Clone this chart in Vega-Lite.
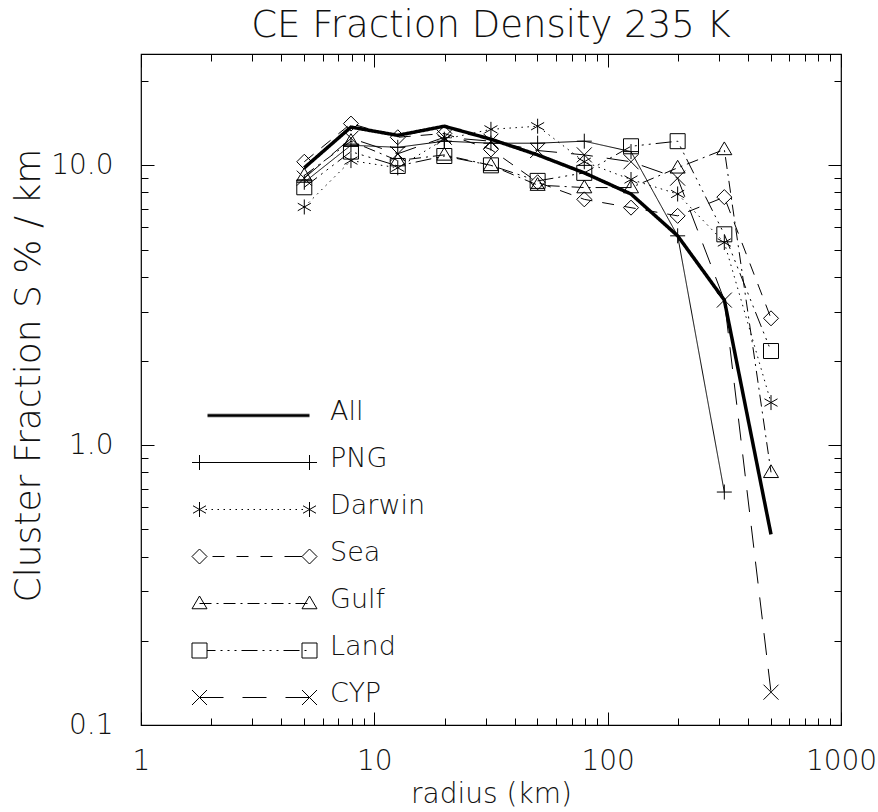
{
  "$schema": "https://vega.github.io/schema/vega-lite/v6.json",
  "width": 700,
  "height": 671,
  "autosize": "none",
  "padding": {"left": 141, "top": 54, "right": 37, "bottom": 87},
  "background": "white",
  "title": {"text": "CE Fraction Density 235 K", "anchor": "middle", "frame": "group", "font": "DejaVu Sans", "fontSize": 37, "fontWeight": 200, "color": "#111", "offset": 9},
  "data": {"values": [
    {"r": 5.01, "s": "All", "v": 9.8}, {"r": 7.94, "s": "All", "v": 13.7}, {"r": 12.6, "s": "All", "v": 12.8}, {"r": 19.95, "s": "All", "v": 13.8}, {"r": 31.6, "s": "All", "v": 12.4}, {"r": 50.1, "s": "All", "v": 10.9}, {"r": 79.4, "s": "All", "v": 9.4}, {"r": 125.9, "s": "All", "v": 7.9}, {"r": 199.5, "s": "All", "v": 5.6}, {"r": 316.2, "s": "All", "v": 3.3}, {"r": 501.2, "s": "All", "v": 0.48},
    {"r": 5.01, "s": "PNG", "v": 8.7}, {"r": 7.94, "s": "PNG", "v": 11.8}, {"r": 12.6, "s": "PNG", "v": 11.6}, {"r": 19.95, "s": "PNG", "v": 12.2}, {"r": 31.6, "s": "PNG", "v": 12.0}, {"r": 50.1, "s": "PNG", "v": 12.0}, {"r": 79.4, "s": "PNG", "v": 12.2}, {"r": 125.9, "s": "PNG", "v": 11.2}, {"r": 199.5, "s": "PNG", "v": 5.6}, {"r": 316.2, "s": "PNG", "v": 0.68},
    {"r": 5.01, "s": "Darwin", "v": 7.1}, {"r": 7.94, "s": "Darwin", "v": 10.4}, {"r": 12.6, "s": "Darwin", "v": 9.8}, {"r": 19.95, "s": "Darwin", "v": 12.4}, {"r": 31.6, "s": "Darwin", "v": 13.45}, {"r": 50.1, "s": "Darwin", "v": 13.8}, {"r": 79.4, "s": "Darwin", "v": 10.3}, {"r": 125.9, "s": "Darwin", "v": 8.9}, {"r": 199.5, "s": "Darwin", "v": 7.9}, {"r": 316.2, "s": "Darwin", "v": 5.3}, {"r": 501.2, "s": "Darwin", "v": 1.42},
    {"r": 5.01, "s": "Sea", "v": 10.3}, {"r": 7.94, "s": "Sea", "v": 14.1}, {"r": 12.6, "s": "Sea", "v": 12.6}, {"r": 19.95, "s": "Sea", "v": 13.0}, {"r": 31.6, "s": "Sea", "v": 11.4}, {"r": 50.1, "s": "Sea", "v": 8.7}, {"r": 79.4, "s": "Sea", "v": 7.56}, {"r": 125.9, "s": "Sea", "v": 7.06}, {"r": 199.5, "s": "Sea", "v": 6.6}, {"r": 316.2, "s": "Sea", "v": 7.7}, {"r": 501.2, "s": "Sea", "v": 2.84},
    {"r": 5.01, "s": "Gulf", "v": 9.2}, {"r": 7.94, "s": "Gulf", "v": 12.2}, {"r": 12.6, "s": "Gulf", "v": 10.4}, {"r": 19.95, "s": "Gulf", "v": 10.9}, {"r": 31.6, "s": "Gulf", "v": 10.0}, {"r": 50.1, "s": "Gulf", "v": 8.5}, {"r": 79.4, "s": "Gulf", "v": 8.33}, {"r": 125.9, "s": "Gulf", "v": 8.33}, {"r": 199.5, "s": "Gulf", "v": 9.8}, {"r": 316.2, "s": "Gulf", "v": 11.4}, {"r": 501.2, "s": "Gulf", "v": 0.8},
    {"r": 5.01, "s": "Land", "v": 8.35}, {"r": 7.94, "s": "Land", "v": 11.2}, {"r": 12.6, "s": "Land", "v": 9.95}, {"r": 19.95, "s": "Land", "v": 10.8}, {"r": 31.6, "s": "Land", "v": 10.0}, {"r": 50.1, "s": "Land", "v": 8.8}, {"r": 79.4, "s": "Land", "v": 9.4}, {"r": 125.9, "s": "Land", "v": 11.7}, {"r": 199.5, "s": "Land", "v": 12.2}, {"r": 316.2, "s": "Land", "v": 5.67}, {"r": 501.2, "s": "Land", "v": 2.17},
    {"r": 5.01, "s": "CYP", "v": 9.0}, {"r": 7.94, "s": "CYP", "v": 12.5}, {"r": 12.6, "s": "CYP", "v": 11.0}, {"r": 19.95, "s": "CYP", "v": 12.6}, {"r": 31.6, "s": "CYP", "v": 12.2}, {"r": 50.1, "s": "CYP", "v": 11.3}, {"r": 79.4, "s": "CYP", "v": 10.9}, {"r": 125.9, "s": "CYP", "v": 10.3}, {"r": 199.5, "s": "CYP", "v": 9.0}, {"r": 316.2, "s": "CYP", "v": 3.3}, {"r": 501.2, "s": "CYP", "v": 0.131}
  ]},
  "resolve": {"axis": {"x": "independent", "y": "independent"}, "scale": {"shape": "independent"}, "legend": {"shape": "independent"}},
  "layer": [
    {
      "mark": {"type": "line", "color": "#000", "strokeCap": "butt"},
      "encoding": {
        "x": {"field": "r", "type": "quantitative", "scale": {"type": "log", "domain": [1, 1000], "nice": false},
              "axis": {"orient": "bottom", "values": [1, 10, 100, 1000], "format": "d", "ticks": false, "tickSize": 0, "labelPadding": 22, "title": "radius (km)", "titlePadding": 5}},
        "y": {"field": "v", "type": "quantitative", "scale": {"type": "log", "domain": [0.1, 25], "nice": false},
              "axis": {"orient": "left", "values": [0.1, 1, 10], "format": ".1f", "ticks": false, "tickSize": 0, "labelPadding": 28, "title": "Cluster Fraction S % / km", "titleFontSize": 36, "titlePadding": 3, "titleY": 321}},
        "strokeDash": {"field": "s", "type": "nominal",
          "scale": {"domain": ["All", "PNG", "Darwin", "Sea", "Gulf", "Land", "CYP"],
                    "range": [[1, 0], [1, 0], [1.5, 4.5], [12, 10], [12, 5, 2, 5], [16, 5, 2, 5, 2, 5, 2, 5], [22, 14]]},
          "legend": null},
        "strokeWidth": {"field": "s", "type": "nominal",
          "scale": {"type": "ordinal", "domain": ["All", "PNG", "Darwin", "Sea", "Gulf", "Land", "CYP"], "range": [3.5, 1, 1, 1, 1, 1, 1]},
          "legend": null}
      }
    },
    {
      "transform": [{"filter": "datum.s !== 'All'"}],
      "mark": {"type": "point", "filled": false, "stroke": "#000", "strokeWidth": 1, "size": 225, "opacity": 1},
      "encoding": {
        "x": {"field": "r", "type": "quantitative", "scale": {"type": "log", "domain": [1, 1000], "nice": false},
              "axis": {"orient": "bottom", "values": [1, 10, 100, 1000], "tickSize": -13, "labels": false, "title": null}},
        "y": {"field": "v", "type": "quantitative", "scale": {"type": "log", "domain": [0.1, 25], "nice": false},
              "axis": {"orient": "left", "values": [0.1, 1, 10], "tickSize": -13, "labels": false, "title": null}},
        "shape": {"field": "s", "type": "nominal",
          "scale": {"domain": ["PNG", "Darwin", "Sea", "Gulf", "Land", "CYP"],
                    "range": ["M-1,0L1,0M0,-1L0,1", "M0,-1L0,1M-0.87,-0.5L0.87,0.5M-0.87,0.5L0.87,-0.5", "M0,-1L1,0L0,1L-1,0Z", "M-1,0.7L0,-1L1,0.7Z", "M-1,-1L1,-1L1,1L-1,1Z", "M-1,-1L1,1M-1,1L1,-1"]},
          "legend": null}
      }
    },
    {
      "mark": {"type": "point", "filled": false, "opacity": 0, "size": 4},
      "encoding": {
        "x": {"field": "r", "type": "quantitative", "scale": {"type": "log", "domain": [1, 1000], "nice": false}, "axis": null},
        "y": {"field": "v", "type": "quantitative", "scale": {"type": "log", "domain": [0.1, 25], "nice": false}, "axis": null},
        "shape": {"field": "s", "type": "nominal",
          "scale": {"domain": ["All", "PNG", "Darwin", "Sea", "Gulf", "Land", "CYP"],
                    "range": [
                      "M-47,2.8L55,2.8M-47,4L55,4M-47,5.2L55,5.2",
                      "M-55,4L55,4M-62.5,4L-47.5,4M-55,-3.5L-55,11.5M47.5,4L62.5,4M55,-3.5L55,11.5",
                      "M-55,-3.5L-55,11.5M-61.5,0.25L-48.5,7.75M-61.5,7.75L-48.5,0.25M55,-3.5L55,11.5M48.5,0.25L61.5,7.75M48.5,7.75L61.5,0.25M-49,4L-47.5,4M-43,4L-41.5,4M-37,4L-35.5,4M-31,4L-29.5,4M-25,4L-23.5,4M-19,4L-17.5,4M-13,4L-11.5,4M-7,4L-5.5,4M-1,4L0.5,4M5,4L6.5,4M11,4L12.5,4M17,4L18.5,4M23,4L24.5,4M29,4L30.5,4M35,4L36.5,4M41,4L42.5,4M47,4L48.5,4",
                      "M-55,-3.5L-47.5,4L-55,11.5L-62.5,4ZM55,-3.5L62.5,4L55,11.5L47.5,4ZM-42,4L-30,4M-18,4L-6,4M6,4L18,4M30,4L47.5,4",
                      "M-62.5,9.25L-55,-3.5L-47.5,9.25ZM47.5,9.25L55,-3.5L62.5,9.25ZM-55,4L-43,4M-38,4L-36,4M-31,4L-19,4M-14,4L-12,4M-7,4L5,4M10,4L12,4M17,4L29,4M34,4L36,4M41,4L53,4",
                      "M-62.5,-3.5L-47.5,-3.5L-47.5,11.5L-62.5,11.5ZM47.5,-3.5L62.5,-3.5L62.5,11.5L47.5,11.5ZM-47.5,4L-39,4M-34,4L-32,4M-27,4L-25,4M-20,4L-18,4M-13,4L3,4M8,4L10,4M15,4L17,4M22,4L24,4M29,4L45,4M50,4L52,4",
                      "M-62.5,-3.5L-47.5,11.5M-62.5,11.5L-47.5,-3.5M47.5,-3.5L62.5,11.5M47.5,11.5L62.5,-3.5M-55,4L-31,4M-12,4L12,4M31,4L55,4"
                    ]},
          "legend": {
            "title": null, "orient": "none", "legendX": 51, "legendY": 344, "direction": "vertical", "padding": 0,
            "rowPadding": 19, "symbolSize": 4, "symbolOffset": 49, "labelOffset": 62,
            "symbolOpacity": 1, "symbolStrokeColor": "#000", "symbolFillColor": "transparent", "symbolStrokeWidth": 1,
            "labelFont": "DejaVu Sans", "labelFontSize": 27, "labelFontWeight": 200, "labelColor": "#111"
          }
        }
      }
    },
    {
      "mark": {"type": "point", "opacity": 0},
      "encoding": {
        "x": {"field": "r", "type": "quantitative", "scale": {"type": "log", "domain": [1, 1000], "nice": false},
              "axis": {"orient": "bottom", "values": [2, 3, 4, 5, 6, 7, 8, 9, 20, 30, 40, 50, 60, 70, 80, 90, 200, 300, 400, 500, 600, 700, 800, 900], "tickSize": -7, "labels": false, "title": null}},
        "y": {"field": "v", "type": "quantitative", "scale": {"type": "log", "domain": [0.1, 25], "nice": false},
              "axis": {"orient": "left", "values": [0.2, 0.3, 0.4, 0.5, 0.6, 0.7, 0.8, 0.9, 2, 3, 4, 5, 6, 7, 8, 9, 20], "tickSize": -7, "labels": false, "title": null}}
      }
    },
    {
      "mark": {"type": "point", "opacity": 0},
      "encoding": {
        "x": {"field": "r", "type": "quantitative", "scale": {"type": "log", "domain": [1, 1000], "nice": false},
              "axis": {"orient": "top", "values": [1, 10, 100, 1000], "tickSize": -13, "labels": false, "title": null}},
        "y": {"field": "v", "type": "quantitative", "scale": {"type": "log", "domain": [0.1, 25], "nice": false},
              "axis": {"orient": "right", "values": [0.1, 1, 10], "tickSize": -13, "labels": false, "title": null}}
      }
    },
    {
      "mark": {"type": "point", "opacity": 0},
      "encoding": {
        "x": {"field": "r", "type": "quantitative", "scale": {"type": "log", "domain": [1, 1000], "nice": false},
              "axis": {"orient": "top", "values": [2, 3, 4, 5, 6, 7, 8, 9, 20, 30, 40, 50, 60, 70, 80, 90, 200, 300, 400, 500, 600, 700, 800, 900], "tickSize": -7, "labels": false, "title": null}},
        "y": {"field": "v", "type": "quantitative", "scale": {"type": "log", "domain": [0.1, 25], "nice": false},
              "axis": {"orient": "right", "values": [0.2, 0.3, 0.4, 0.5, 0.6, 0.7, 0.8, 0.9, 2, 3, 4, 5, 6, 7, 8, 9, 20], "tickSize": -7, "labels": false, "title": null}}
      }
    }
  ],
  "config": {
    "view": {"stroke": "#000", "strokeWidth": 1.2},
    "axis": {"domain": false, "grid": false, "tickColor": "#000", "tickWidth": 1,
             "labelFont": "DejaVu Sans", "labelFontSize": 28, "labelFontWeight": 200, "labelColor": "#111",
             "titleFont": "DejaVu Sans", "titleFontSize": 28, "titleFontWeight": 200, "titleColor": "#111",
             "labelFlush": false, "labelOverlap": false, "labelBound": false}
  }
}
